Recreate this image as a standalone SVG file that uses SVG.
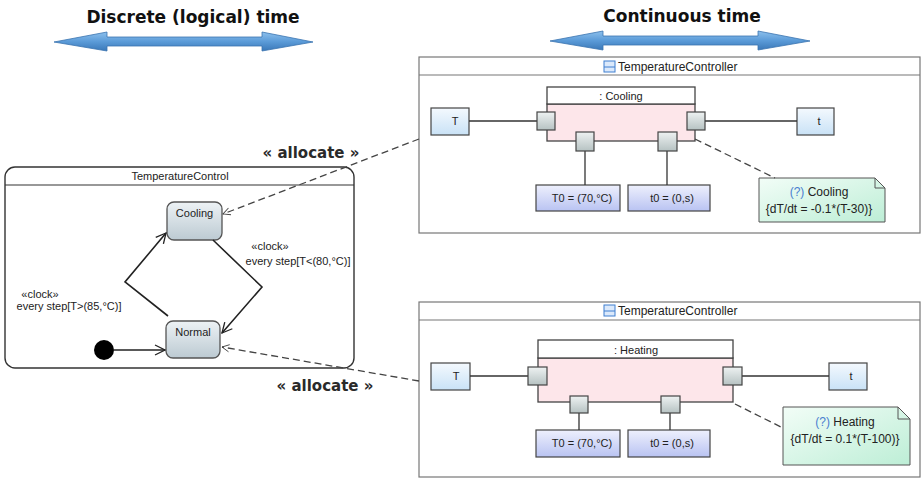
<svg xmlns="http://www.w3.org/2000/svg" width="921" height="479" viewBox="0 0 921 479">
  <defs>
    <linearGradient id="gArrow" x1="0" y1="0" x2="0" y2="1">
      <stop offset="0" stop-color="#8dc0ec"/>
      <stop offset="0.5" stop-color="#5b9bd8"/>
      <stop offset="1" stop-color="#3a78b8"/>
    </linearGradient>
    <linearGradient id="gVar" x1="0" y1="0" x2="0" y2="1">
      <stop offset="0" stop-color="#f4f9fe"/>
      <stop offset="1" stop-color="#c9e2f6"/>
    </linearGradient>
    <linearGradient id="gVal" x1="0" y1="0" x2="0" y2="1">
      <stop offset="0" stop-color="#eef0fd"/>
      <stop offset="1" stop-color="#b9c3f2"/>
    </linearGradient>
    <linearGradient id="gPort" x1="0" y1="0" x2="0" y2="1">
      <stop offset="0" stop-color="#eef2f2"/>
      <stop offset="1" stop-color="#b6c2c2"/>
    </linearGradient>
    <linearGradient id="gNote" x1="0" y1="0" x2="1" y2="1">
      <stop offset="0" stop-color="#f2fdf7"/>
      <stop offset="1" stop-color="#bdeed6"/>
    </linearGradient>
    <linearGradient id="gState" x1="0" y1="0" x2="0" y2="1">
      <stop offset="0" stop-color="#edf2f5"/>
      <stop offset="1" stop-color="#bccad2"/>
    </linearGradient>
    <marker id="open" viewBox="0 0 12 12" refX="11" refY="6" markerWidth="12" markerHeight="12" markerUnits="userSpaceOnUse" orient="auto">
      <path d="M1,1 L11,6 L1,11" fill="none" stroke="#222" stroke-width="1.3"/>
    </marker>
    <marker id="openSmall" viewBox="0 0 10 10" refX="9" refY="5" markerWidth="9" markerHeight="9" markerUnits="userSpaceOnUse" orient="auto">
      <path d="M1,1 L9,5 L1,9" fill="none" stroke="#444" stroke-width="1"/>
    </marker>
  </defs>
  <style>
    .t { font-family: "Liberation Sans", Arial, sans-serif; fill: #222; }
    .small { font-size: 11px; }
    .title { font-size: 12px; }
    .noteText { font-size: 12px; }
    .head { font-family: "DejaVu Sans", Verdana, sans-serif; font-size: 17px; font-weight: bold; fill: #111; }
    .alloc { font-family: "DejaVu Sans", Verdana, sans-serif; font-size: 15px; font-weight: bold; fill: #2a2a2a; }
    .frame { fill: #fff; stroke: #777; stroke-width: 1.2; }
    .part { fill: #fde6ea; stroke: #444; stroke-width: 1.3; }
    .partHead { fill: #fff; stroke: #444; stroke-width: 1.3; }
    .var { fill: url(#gVar); stroke: #444; stroke-width: 1.2; }
    .val { fill: url(#gVal); stroke: #444; stroke-width: 1.2; }
    .port { fill: url(#gPort); stroke: #444; stroke-width: 1.2; }
    .note { fill: url(#gNote); stroke: #555; stroke-width: 1; }
    .state { fill: url(#gState); stroke: #555; stroke-width: 1.3; }
    .wire { stroke: #333; stroke-width: 1.3; fill: none; }
    .dash { stroke: #444; stroke-width: 1.3; fill: none; stroke-dasharray: 7 4; }
    .trans { stroke: #222; stroke-width: 1.6; fill: none; }
    .q { fill: #4a7fd0; }
  </style>

  <!-- time-scale headers -->
  <g id="discrete-header">
    <text class="head" x="193" y="23" text-anchor="middle">Discrete (logical) time</text>
    <path d="M54,42 L107,32 L107,37 L262,37 L262,32 L313,42 L262,51 L262,46 L107,46 L107,51 Z" fill="url(#gArrow)" stroke="#3a73b0" stroke-width="0.8"/>
  </g>
  <g id="continuous-header">
    <text class="head" x="682" y="22" text-anchor="middle" font-size="18">Continuous time</text>
    <path d="M550,41 L603,31 L603,36 L758,36 L758,31 L810,41 L758,50 L758,45 L603,45 L603,50 Z" fill="url(#gArrow)" stroke="#3a73b0" stroke-width="0.8"/>
  </g>

  <!-- state machine -->
  <g id="TemperatureControl">
    <rect x="5" y="167" width="349" height="201" rx="10" fill="#fff" stroke="#333" stroke-width="1.4"/>
    <line x1="5" y1="185" x2="354" y2="185" stroke="#333" stroke-width="1.2"/>
    <text class="t small" x="180" y="180" text-anchor="middle">TemperatureControl</text>
  </g>
  <g id="state-cooling">
    <rect class="state" x="167" y="202" width="55" height="38" rx="7"/>
    <text class="t small" x="194.5" y="217" text-anchor="middle">Cooling</text>
  </g>
  <g id="state-normal">
    <rect class="state" x="166" y="321" width="54" height="37" rx="7"/>
    <text class="t small" x="193" y="336" text-anchor="middle">Normal</text>
  </g>
  <g id="initial">
    <circle cx="104" cy="350" r="10" fill="#000"/>
  </g>

  <!-- part diagram: cooling -->
  <g id="controller-cooling">
    <rect class="frame" x="419" y="57" width="501" height="176"/>
    <line x1="419" y1="75" x2="920" y2="75" stroke="#777" stroke-width="1.2"/>
    <rect x="604" y="61" width="11" height="11" fill="#dbe9fb" stroke="#3f7fd0" stroke-width="1"/>
    <line x1="604" y1="67" x2="615" y2="67" stroke="#3f7fd0" stroke-width="1"/>
    <text class="t title" x="618" y="71">TemperatureController</text>
  </g>
  <g id="part-cooling">
    <rect class="part" x="547" y="104" width="148" height="37"/>
    <rect class="partHead" x="547" y="87" width="148" height="17"/>
    <text class="t small" x="621" y="100" text-anchor="middle">: Cooling</text>
  </g>
  <g id="var-T-cooling"><rect class="var" x="431" y="108" width="38" height="27"/><text class="t small" x="455" y="125" text-anchor="middle">T</text></g>
  <g id="var-t-cooling"><rect class="var" x="797" y="108" width="37" height="27"/><text class="t small" x="819" y="125" text-anchor="middle">t</text></g>
  <g id="val-T0-cooling"><rect class="val" x="536" y="185" width="84" height="26"/><text class="t small" x="582" y="202" text-anchor="middle">T0 = (70,°C)</text></g>
  <g id="val-t0-cooling"><rect class="val" x="628" y="185" width="82" height="26"/><text class="t small" x="672" y="202" text-anchor="middle">t0 = (0,s)</text></g>
  <g id="note-cooling">
    <path class="note" d="M759,178 L875,178 L885,188 L885,222 L759,222 Z"/>
    <path d="M875,178 L875,188 L885,188" fill="none" stroke="#555" stroke-width="1"/>
    <text class="t noteText" x="819" y="196" text-anchor="middle"><tspan class="q">(?)</tspan> Cooling</text>
    <text class="t noteText" x="819" y="213" text-anchor="middle">{dT/dt = -0.1*(T-30)}</text>
  </g>

  <!-- part diagram: heating -->
  <g id="controller-heating">
    <rect class="frame" x="419" y="302" width="501" height="175"/>
    <line x1="419" y1="320" x2="920" y2="320" stroke="#777" stroke-width="1.2"/>
    <rect x="604" y="305" width="11" height="11" fill="#dbe9fb" stroke="#3f7fd0" stroke-width="1"/>
    <line x1="604" y1="311" x2="615" y2="311" stroke="#3f7fd0" stroke-width="1"/>
    <text class="t title" x="618" y="315">TemperatureController</text>
  </g>
  <g id="part-heating">
    <rect class="part" x="538" y="358" width="195" height="44"/>
    <rect class="partHead" x="538" y="340" width="195" height="18"/>
    <text class="t small" x="636" y="354" text-anchor="middle">: Heating</text>
  </g>
  <g id="var-T-heating"><rect class="var" x="431" y="363" width="39" height="27"/><text class="t small" x="456" y="380" text-anchor="middle">T</text></g>
  <g id="var-t-heating"><rect class="var" x="829" y="363" width="38" height="27"/><text class="t small" x="851" y="380" text-anchor="middle">t</text></g>
  <g id="val-T0-heating"><rect class="val" x="536" y="430" width="84" height="27"/><text class="t small" x="582" y="447" text-anchor="middle">T0 = (70,°C)</text></g>
  <g id="val-t0-heating"><rect class="val" x="628" y="430" width="82" height="27"/><text class="t small" x="672" y="447" text-anchor="middle">t0 = (0,s)</text></g>
  <g id="note-heating">
    <path class="note" d="M783,407 L898,407 L910,419 L910,465 L783,465 Z"/>
    <path d="M898,407 L898,419 L910,419" fill="none" stroke="#555" stroke-width="1"/>
    <text class="t noteText" x="845" y="426" text-anchor="middle"><tspan class="q">(?)</tspan> Heating</text>
    <text class="t noteText" x="845" y="443" text-anchor="middle">{dT/dt = 0.1*(T-100)}</text>
  </g>

  <!-- connectors -->
  <g id="connectors">
    <!-- transitions -->
    <line class="trans" x1="114" y1="350" x2="165" y2="350" marker-end="url(#open)"/>
    <polyline class="trans" points="168,316 125,282 166,233" marker-end="url(#open)"/>
    <polyline class="trans" points="213,240 262,287 222,333" marker-end="url(#open)"/>
    <text class="t small" x="40" y="298" text-anchor="middle" fill="#555" font-size="10">«clock»</text>
    <text class="t small" x="69" y="310" text-anchor="middle">every step[T&gt;(85,°C)]</text>
    <text class="t small" x="270" y="250" text-anchor="middle" fill="#555" font-size="10">«clock»</text>
    <text class="t small" x="298" y="265" text-anchor="middle">every step[T&lt;(80,°C)]</text>

    <!-- allocations -->
    <line class="dash" x1="419" y1="139" x2="223" y2="214" marker-end="url(#openSmall)"/>
    <line class="dash" x1="419" y1="381" x2="222" y2="347" marker-end="url(#openSmall)"/>
    <text class="alloc" x="311" y="158" text-anchor="middle">« allocate »</text>
    <text class="alloc" x="325" y="391" text-anchor="middle">« allocate »</text>

    <!-- cooling wiring -->
    <line class="wire" x1="469" y1="121" x2="537" y2="121"/>
    <line class="wire" x1="705" y1="121" x2="797" y2="121"/>
    <line class="wire" x1="585" y1="151" x2="585" y2="185"/>
    <line class="wire" x1="667" y1="151" x2="667" y2="185"/>
    <line class="dash" x1="695" y1="139" x2="775" y2="178" stroke-dasharray="5 3"/>
    <rect class="port" x="537" y="112" width="18" height="18"/>
    <rect class="port" x="687" y="112" width="18" height="18"/>
    <rect class="port" x="576" y="132" width="18" height="19"/>
    <rect class="port" x="658" y="132" width="19" height="19"/>

    <!-- heating wiring -->
    <line class="wire" x1="470" y1="376" x2="528" y2="376"/>
    <line class="wire" x1="742" y1="376" x2="829" y2="376"/>
    <line class="wire" x1="579" y1="413" x2="579" y2="430"/>
    <line class="wire" x1="670" y1="413" x2="670" y2="430"/>
    <line class="dash" x1="735" y1="404" x2="783" y2="428" stroke-dasharray="5 3"/>
    <rect class="port" x="528" y="367" width="19" height="18"/>
    <rect class="port" x="723" y="367" width="19" height="18"/>
    <rect class="port" x="570" y="396" width="18" height="17"/>
    <rect class="port" x="661" y="396" width="19" height="17"/>
  </g>
</svg>
